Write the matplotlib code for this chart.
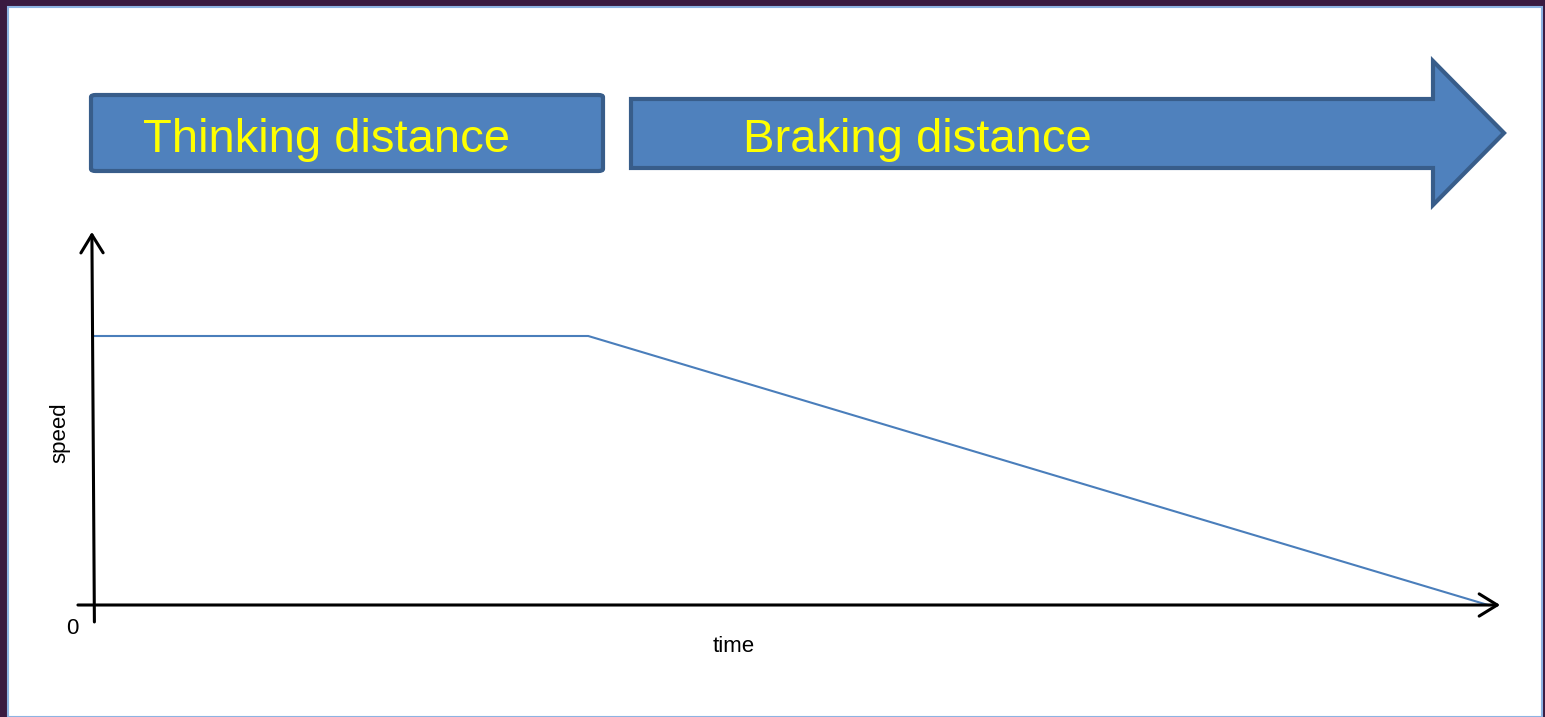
import matplotlib.pyplot as plt
from matplotlib.patches import Rectangle, FancyBboxPatch, Polygon

# dados do grafico: tempo de reacao + frenagem
tempo = [0, 3.55, 10]
velocidade = [20, 20, 0]
rotulos = ['Thinking distance', 'Braking distance']

W, H = 1545, 717
fig = plt.figure(figsize=(W / 100, H / 100), dpi=100)
fig.patch.set_facecolor('#3a1a40')

def fx(px):
    return px / W

def fy(py):
    return 1 - py / H

# painel branco (atras de tudo)
fig.patches.append(Rectangle((fx(8), 0), fx(1542) - fx(8), fy(7), transform=fig.transFigure,
                             facecolor='white', edgecolor='#8db3e2', lw=1.5, zorder=-10))

# caixa "Thinking distance"
fig.patches.append(FancyBboxPatch((fx(91), fy(171)), fx(603) - fx(91), fy(95) - fy(171),
                                  boxstyle='round,pad=0,rounding_size=0.003',
                                  transform=fig.transFigure, facecolor='#4f81bd',
                                  edgecolor='#385d8a', lw=3))

# seta "Braking distance"
pts = [(631, 99), (1433, 99), (1433, 61), (1504, 133), (1433, 205), (1433, 168), (631, 168)]
fig.patches.append(Polygon([(fx(x), fy(y)) for x, y in pts], closed=True, transform=fig.transFigure,
                           facecolor='#4f81bd', edgecolor='#385d8a', lw=3, joinstyle='miter'))

fig.text(fx(143), fy(152), rotulos[0], color='#ffff00', fontsize=34, family='Liberation Sans',
         ha='left', va='baseline')
fig.text(fx(743), fy(152), rotulos[1], color='#ffff00', fontsize=34, family='Liberation Sans',
         ha='left', va='baseline')

# eixos do grafico
ax = fig.add_axes([fx(93), fy(605), fx(1488) - fx(93), fy(336) - fy(605)])
ax.set_xlim(0, 10)
ax.set_ylim(0, 20)
ax.axis('off')

ax.plot(tempo, velocidade, color='#4a7ebb', lw=1.5, solid_joinstyle='miter', clip_on=False)

estilo = dict(arrowstyle='->,head_length=1.3,head_width=0.8', lw=2.2, color='black',
              mutation_scale=10, shrinkA=0, shrinkB=0)
# eixo vertical (levemente inclinado como no original)
ax.annotate('', xy=(-0.0008, 1.387), xytext=(0.001, -0.063), xycoords='axes fraction',
            textcoords='axes fraction', arrowprops=estilo)
# eixo horizontal
ax.annotate('', xy=(1.0087, 0), xytext=(-0.0108, 0), xycoords='axes fraction',
            textcoords='axes fraction', arrowprops=estilo)

fig.text(fx(72), fy(628), '0', fontsize=16, family='Liberation Sans', ha='center', va='center')
fig.text(fx(734), fy(646), 'time', fontsize=16, family='Liberation Sans', ha='center', va='center')
fig.text(fx(60), fy(433), 'speed', fontsize=16, family='Liberation Sans', ha='center', va='center',
         rotation=90)

fig.savefig('out.png', dpi=100, facecolor=fig.get_facecolor())
